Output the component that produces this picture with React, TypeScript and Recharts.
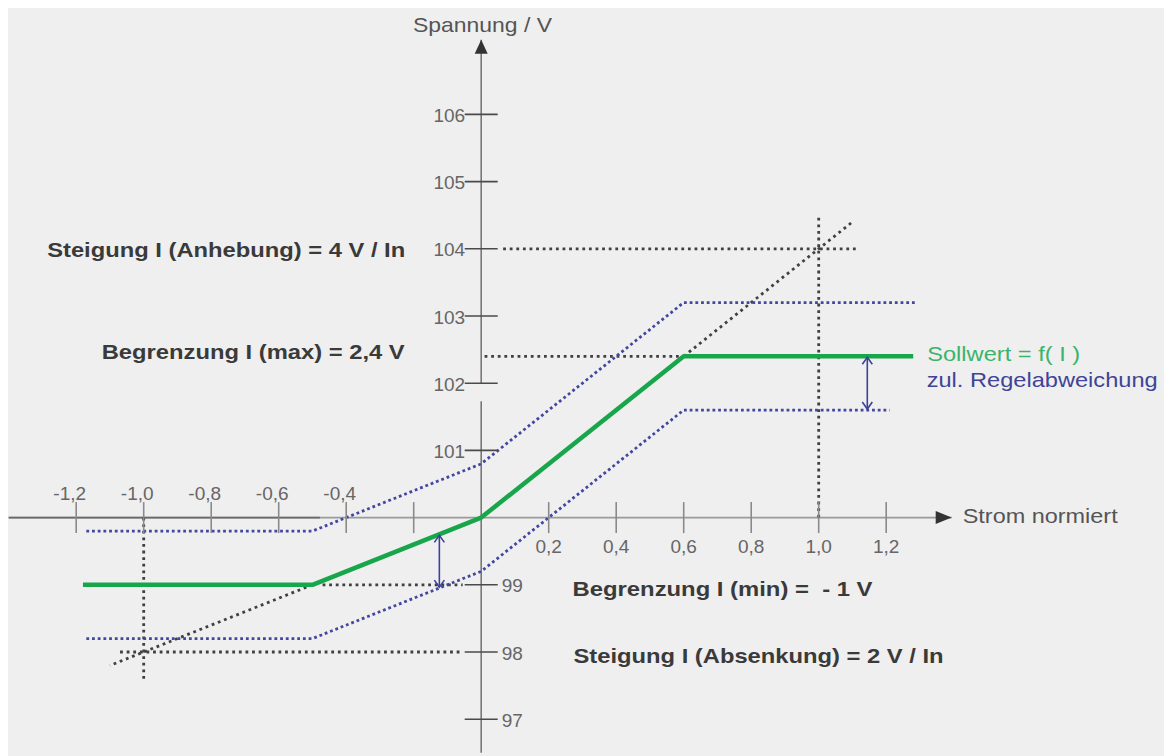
import React from 'react';
import { LineChart, Line, XAxis, YAxis, ReferenceLine, ReferenceDot } from 'recharts';

// Sollwert-Kennlinie: Strom normiert -> Spannung / V
const sollStrom = [-1.18, -0.5, 0, 0.6, 1.28];
const sollSpannung = [99, 99, 100, 102.4, 102.4];

// Grenzen der zulässigen Regelabweichung
const obenStrom = [-1.17, -0.5, 0, 0.6, 1.29];
const obenSpannung = [99.8, 99.8, 100.8, 103.2, 103.2];
const untenStrom = [-1.17, -0.5, 0, 0.6, 1.21];
const untenSpannung = [98.2, 98.2, 99.2, 101.6, 101.6];

// Hilfslinien als [x1, y1, x2, y2]
const hilfslinien = [
  [0.6, 102.4, 1.1, 104.4],
  [-0.5, 99, -1.1, 97.8],
  [0.065, 104, 1.12, 104],
  [0.01, 102.4, 0.6, 102.4],
  [-0.47, 99, -0.055, 99],
  [-1.07, 98, -0.055, 98],
  [1.0, 100, 1.0, 104.5],
  [-1.0, 100, -1.0, 97.55],
];

// Doppelpfeile für die Regelabweichung
const pfeilStrom = [-0.124, 1.144];
const pfeilOben = [99.75, 102.4];
const pfeilUnten = [98.95, 101.6];

const xTicks = [-1.2, -1.0, -0.8, -0.6, -0.4, -0.2, 0.2, 0.4, 0.6, 0.8, 1.0, 1.2];
const xTickLabels = ['-1,2', '-1,0', '-0,8', '-0,6', '-0,4', '', '0,2', '0,4', '0,6', '0,8', '1,0', '1,2'];
const yTicks = [97, 98, 99, 101, 102, 103, 104, 105, 106];
const yTickLabels = ['97', '98', '99', '101', '102', '103', '104', '105', '106'];

// Achsen
const xAchse = [-1.4, 1.394];
const yAchse = [96.5, 107.11];
const yLuecke = [101.73, 102];

const FONT = '"Liberation Sans", Arial, Helvetica, sans-serif';
const GRUEN = '#18a64a';
const BLAU = '#4247a0';
const GRAU = '#404040';

const zip = (xs: number[], ys: number[]) => xs.map((x, i) => ({ x, y: ys[i] }));
const kennlinie = zip(sollStrom, sollSpannung);
const grenzeOben = zip(obenStrom, obenSpannung);
const grenzeUnten = zip(untenStrom, untenSpannung);

type Note = {
  text: string;
  dx: number;
  dy: number;
  size: number;
  color: string;
  weight?: number;
  width?: number;
  anchor?: 'start' | 'middle' | 'end';
};

const note = (n: Note) => (p: any) => (
  <text
    x={p.cx + n.dx}
    y={p.cy + n.dy}
    fontSize={n.size}
    fill={n.color}
    fontWeight={n.weight ?? 400}
    fontFamily={FONT}
    textAnchor={n.anchor ?? 'start'}
    textLength={n.width}
    lengthAdjust={n.width ? 'spacingAndGlyphs' : undefined}
    style={{ whiteSpace: 'pre' }}
  >
    {n.text}
  </text>
);

const DoppelPfeil = (p: any) => {
  const { x1, y1, y2 } = p;
  const top = Math.min(y1, y2);
  const bot = Math.max(y1, y2);
  const h = 8;
  const w = 5;
  return (
    <g stroke="#3d4199" strokeWidth={1.6} fill="none">
      <line x1={x1} y1={top + 1} x2={x1} y2={bot - 1} />
      <polyline points={`${x1 - w},${top + h} ${x1},${top + 1} ${x1 + w},${top + h}`} />
      <polyline points={`${x1 - w},${bot - h} ${x1},${bot - 1} ${x1 + w},${bot - h}`} />
    </g>
  );
};

export default function App() {
  return (
    <div style={{ position: 'absolute', left: 0, top: 0, width: 1164, height: 756, background: '#fff', overflow: 'hidden' }}>
      <div style={{ position: 'absolute', left: 8, top: 8, right: 0, bottom: 0, background: '#efefef' }} />
      <div style={{ position: 'absolute', left: 0, top: 0 }}>
        <LineChart width={1164} height={756} margin={{ top: 13.6, right: 7.8, bottom: 3.2, left: 8.7 }}>
          <XAxis type="number" dataKey="x" domain={[-1.4, 2.0]} allowDataOverflow hide />
          <YAxis type="number" dataKey="y" domain={[96.5, 107.5]} allowDataOverflow hide />

          {/* Achsen */}
          <ReferenceLine
            segment={[{ x: xAchse[0], y: 100 }, { x: xAchse[1], y: 100 }]}
            stroke="#9a9a9a"
            strokeWidth={1.6}
            ifOverflow="visible"
          />
          <ReferenceLine
            segment={[{ x: xAchse[0], y: 100 }, { x: -0.478, y: 100 }]}
            stroke="#6a6a6a"
            strokeWidth={1.6}
            ifOverflow="visible"
          />
          <ReferenceLine
            segment={[{ x: 0, y: yAchse[0] }, { x: 0, y: yLuecke[0] }]}
            stroke="#777"
            strokeWidth={1.6}
            ifOverflow="visible"
          />
          <ReferenceLine
            segment={[{ x: 0, y: yLuecke[1] }, { x: 0, y: yAchse[1] }]}
            stroke="#777"
            strokeWidth={1.6}
            ifOverflow="visible"
          />
          <ReferenceDot
            x={0}
            y={yAchse[1]}
            r={1}
            ifOverflow="visible"
            shape={(p: any) => (
              <polygon points={`${p.cx},${p.cy} ${p.cx - 6.5},${p.cy + 14} ${p.cx + 6.5},${p.cy + 14}`} fill="#333" />
            )}
          />
          <ReferenceDot
            x={xAchse[1]}
            y={100}
            r={1}
            ifOverflow="visible"
            shape={(p: any) => (
              <polygon points={`${p.cx},${p.cy} ${p.cx - 16},${p.cy - 6.5} ${p.cx - 16},${p.cy + 6.5}`} fill="#333" />
            )}
          />

          {/* Teilstriche und Beschriftung */}
          {xTicks.map((t, i) => (
            <ReferenceDot
              key={`xt${t}`}
              x={t}
              y={100}
              r={1}
              ifOverflow="visible"
              shape={(p: any) => (
                <g>
                  <line x1={p.cx} y1={p.cy - 15.5} x2={p.cx} y2={p.cy + 15.5} stroke="#8a8a8a" strokeWidth={1.6} />
                  <text
                    x={p.cx + (t < 0 ? -6.5 : 0)}
                    y={p.cy + (t < 0 ? -17.6 : 35.4)}
                    fontSize={19}
                    fill="#666"
                    fontFamily={FONT}
                    textAnchor="middle"
                  >
                    {xTickLabels[i]}
                  </text>
                </g>
              )}
            />
          ))}
          {yTicks.map((t, i) => (
            <ReferenceDot
              key={`yt${t}`}
              x={0}
              y={t}
              r={1}
              ifOverflow="visible"
              shape={(p: any) => (
                <g>
                  <line x1={p.cx - 16.5} y1={p.cy} x2={p.cx + 16.5} y2={p.cy} stroke="#4a4a4a" strokeWidth={1.6} />
                  <text
                    x={p.cx + (t < 100 ? 20.5 : -16)}
                    y={p.cy + 7.5}
                    fontSize={19}
                    fill="#666"
                    fontFamily={FONT}
                    textAnchor={t < 100 ? 'start' : 'end'}
                  >
                    {yTickLabels[i]}
                  </text>
                </g>
              )}
            />
          ))}

          {/* Hilfslinien */}
          {hilfslinien.map(([x1, y1, x2, y2], i) => (
            <ReferenceLine
              key={`h${i}`}
              segment={[{ x: x1, y: y1 }, { x: x2, y: y2 }]}
              stroke={GRAU}
              strokeWidth={2.8}
              strokeDasharray="2.8 3.8"
              ifOverflow="visible"
            />
          ))}

          {/* Toleranzband */}
          <Line
            data={grenzeOben}
            dataKey="y"
            type="linear"
            stroke={BLAU}
            strokeWidth={2.8}
            strokeDasharray="2.8 2.9"
            dot={false}
            activeDot={false}
            isAnimationActive={false}
          />
          <Line
            data={grenzeUnten}
            dataKey="y"
            type="linear"
            stroke={BLAU}
            strokeWidth={2.8}
            strokeDasharray="2.8 2.9"
            dot={false}
            activeDot={false}
            isAnimationActive={false}
          />

          {/* Sollwert */}
          <Line
            data={kennlinie}
            dataKey="y"
            type="linear"
            stroke={GRUEN}
            strokeWidth={4.5}
            strokeLinejoin="round"
            dot={false}
            activeDot={false}
            isAnimationActive={false}
          />

          {pfeilStrom.map((x, i) => (
            <ReferenceLine
              key={`p${i}`}
              segment={[{ x, y: pfeilOben[i] }, { x, y: pfeilUnten[i] }]}
              ifOverflow="visible"
              shape={DoppelPfeil}
            />
          ))}

          {/* Beschriftungen */}
          <ReferenceDot
            x={0}
            y={yAchse[1]}
            r={1}
            ifOverflow="visible"
            shape={note({ text: 'Spannung / V', dx: 1.3, dy: -8, size: 21, color: '#555', anchor: 'middle', width: 139 })}
          />
          <ReferenceDot
            x={xAchse[1]}
            y={100}
            r={1}
            ifOverflow="visible"
            shape={note({ text: 'Strom normiert', dx: 11, dy: 5.5, size: 21, color: '#555', width: 155 })}
          />
          <ReferenceDot
            x={0}
            y={104}
            r={1}
            ifOverflow="visible"
            shape={note({ text: 'Steigung I (Anhebung) = 4 V / In', dx: -434, dy: 8, size: 21, weight: 700, color: '#3a3a3a', width: 358 })}
          />
          <ReferenceDot
            x={0}
            y={102.4}
            r={1}
            ifOverflow="visible"
            shape={note({ text: 'Begrenzung I (max) = 2,4 V', dx: -379.5, dy: 2.7, size: 21, weight: 700, color: '#3a3a3a', width: 303 })}
          />
          <ReferenceDot
            x={sollStrom[sollStrom.length - 1]}
            y={sollSpannung[sollSpannung.length - 1]}
            r={1}
            ifOverflow="visible"
            shape={note({ text: 'Sollwert = f( I )', dx: 14, dy: 5, size: 21, color: '#3cb36a', width: 153 })}
          />
          <ReferenceDot
            x={sollStrom[sollStrom.length - 1]}
            y={sollSpannung[sollSpannung.length - 1]}
            r={1}
            ifOverflow="visible"
            shape={note({ text: 'zul. Regelabweichung', dx: 13.5, dy: 30.7, size: 21, color: '#3f4497', width: 231 })}
          />
          <ReferenceDot
            x={0}
            y={99}
            r={1}
            ifOverflow="visible"
            shape={note({ text: 'Begrenzung I (min) =  - 1 V', dx: 91.3, dy: 11.2, size: 21, weight: 700, color: '#3a3a3a', width: 300 })}
          />
          <ReferenceDot
            x={0}
            y={98}
            r={1}
            ifOverflow="visible"
            shape={note({ text: 'Steigung I (Absenkung) = 2 V / In', dx: 92.3, dy: 11, size: 21, weight: 700, color: '#3a3a3a', width: 370 })}
          />
        </LineChart>
      </div>
    </div>
  );
}
